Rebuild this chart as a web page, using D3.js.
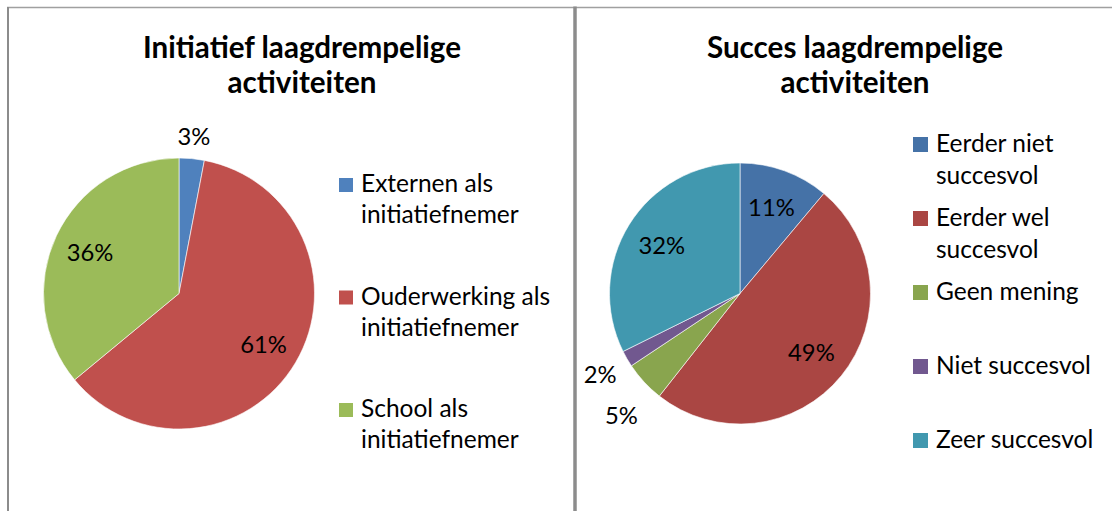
<!DOCTYPE html>
<html>
<head>
<meta charset="utf-8">
<script src="https://cdn.jsdelivr.net/npm/d3@7"></script>
<style>
  html, body { margin: 0; padding: 0; background: #fff; }
  svg { display: block; font-family: Lato, "Open Sans", sans-serif; }
</style>
</head>
<body>
<svg id="chart" width="1112" height="511"></svg>
<script>
// ---------- data ----------
const initTitle = ["Initiatief laagdrempelige", "activiteiten"];
const initCategories = [
  ["Externen als", "initiatiefnemer"],
  ["Ouderwerking als", "initiatiefnemer"],
  ["School als", "initiatiefnemer"]
];
const initValues = [3, 61, 36];
const initColors = ["#4F81BD", "#C0504D", "#9BBB59"];

const succTitle = ["Succes laagdrempelige", "activiteiten"];
const succCategories = [
  ["Eerder niet", "succesvol"],
  ["Eerder wel", "succesvol"],
  ["Geen mening"],
  ["Niet succesvol"],
  ["Zeer succesvol"]
];
const succValues = [11, 49, 5, 2, 32];
const succColors = ["#4572A7", "#AA4643", "#89A54E", "#71588F", "#4198AF"];

// ---------- drawing ----------
const svg = d3.select("#chart");

// frames
const frame = svg.append("g");
frame.append("line").attr("x1", 7).attr("x2", 1112).attr("y1", 7.5).attr("y2", 7.5)
  .attr("stroke", "#a0a0a0").attr("stroke-width", 1.5);
frame.append("line").attr("x1", 8).attr("x2", 8).attr("y1", 7).attr("y2", 511)
  .attr("stroke", "#8c8c8c").attr("stroke-width", 2);
frame.append("line").attr("x1", 575).attr("x2", 575).attr("y1", 6.5).attr("y2", 511)
  .attr("stroke", "#8c8c8c").attr("stroke-width", 3.5);

const fmt = d3.format(".0%");

function drawPie(opts) {
  const g = svg.append("g");
  const total = d3.sum(opts.values);
  const pie = d3.pie().sort(null).value(d => d);
  const arcs = pie(opts.values);
  const arc = d3.arc().innerRadius(0).outerRadius(opts.r);
  const color = d3.scaleOrdinal().domain(d3.range(opts.values.length)).range(opts.colors);

  // title
  g.append("text")
    .attr("x", opts.titleX).attr("text-anchor", "middle")
    .attr("font-size", opts.titleSize).attr("font-weight", "bold").attr("fill", "#000")
    .selectAll("tspan").data(opts.title).join("tspan")
    .attr("x", opts.titleX)
    .attr("y", (d, i) => opts.titleY + i * opts.titleLH)
    .text(d => d);

  const pg = g.append("g").attr("transform", `translate(${opts.cx},${opts.cy})`);
  pg.selectAll("path").data(arcs).join("path")
    .attr("d", arc)
    .attr("fill", (d, i) => color(i))
    .attr("stroke", "#fff").attr("stroke-width", 0.6);

  // label positions
  const inArc = d3.arc().innerRadius(opts.r * opts.inFactor).outerRadius(opts.r * opts.inFactor);
  const lblW = 30, lblH = 20;
  const pos = new Array(arcs.length);
  const placed = [];
  // walk slices backwards so that earlier outside labels get nudged away
  for (let i = arcs.length - 1; i >= 0; i--) {
    const d = arcs[i];
    const share = d.value / total;
    if (share >= opts.outsideBelow) { pos[i] = inArc.centroid(d); continue; }
    const mid = (d.startAngle + d.endAngle) / 2;
    const s = Math.sin(mid), c = -Math.cos(mid);
    const ext = Math.abs(s) * lblW / 2 + Math.abs(c) * lblH / 2;
    const dist = opts.r + ext + opts.outPad;
    let x = s * dist, y = c * dist;
    placed.forEach(p => {
      if (Math.abs(p[0] - x) < lblW + 10 && Math.abs(p[1] - y) < opts.minGap) {
        y = p[1] + (y >= p[1] ? opts.minGap : -opts.minGap);
      }
    });
    placed.push([x, y]);
    pos[i] = [x, y];
  }

  pg.selectAll("text.lbl").data(arcs).join("text")
    .attr("class", "lbl")
    .attr("text-anchor", "middle")
    .attr("dominant-baseline", "central")
    .attr("font-size", opts.labelSize).attr("fill", "#000")
    .attr("transform", (d, i) => `translate(${pos[i][0]},${pos[i][1]})`)
    .text(d => fmt(d.value / 100));

  // legend
  const ly = d3.scalePoint().domain(d3.range(opts.cats.length))
    .range([opts.legY0, opts.legY1]);
  const lg = g.append("g");
  const item = lg.selectAll("g").data(opts.cats).join("g")
    .attr("transform", (d, i) => `translate(${opts.legX},${ly(i)})`);
  item.append("rect")
    .attr("x", 0).attr("y", -opts.sq).attr("width", opts.sq).attr("height", opts.sq)
    .attr("fill", (d, i) => color(i));
  item.append("text")
    .attr("font-size", opts.legSize).attr("fill", "#000")
    .selectAll("tspan").data(d => d).join("tspan")
    .attr("x", opts.sq + 8)
    .attr("y", (d, i) => i * opts.legLH)
    .text(d => d);
}

drawPie({
  values: initValues, colors: initColors, cats: initCategories, title: initTitle,
  cx: 179, cy: 293.5, r: 135.5,
  titleX: 302, titleY: 58, titleLH: 35, titleSize: 29.6,
  labelSize: 23.8, inFactor: 0.725, outsideBelow: 0.04, outPad: 11, minGap: 41,
  legX: 339, legY0: 192, legY1: 417, legLH: 31, legSize: 24.5, sq: 14
});

drawPie({
  values: succValues, colors: succColors, cats: succCategories, title: succTitle,
  cx: 740, cy: 293.5, r: 130.5,
  titleX: 855, titleY: 58, titleLH: 35, titleSize: 29.6,
  labelSize: 23.8, inFactor: 0.705, outsideBelow: 0.06, outPad: 13, minGap: 41,
  legX: 913, legY0: 152, legY1: 448, legLH: 32, legSize: 24.5, sq: 15
});
</script>
</body>
</html>
